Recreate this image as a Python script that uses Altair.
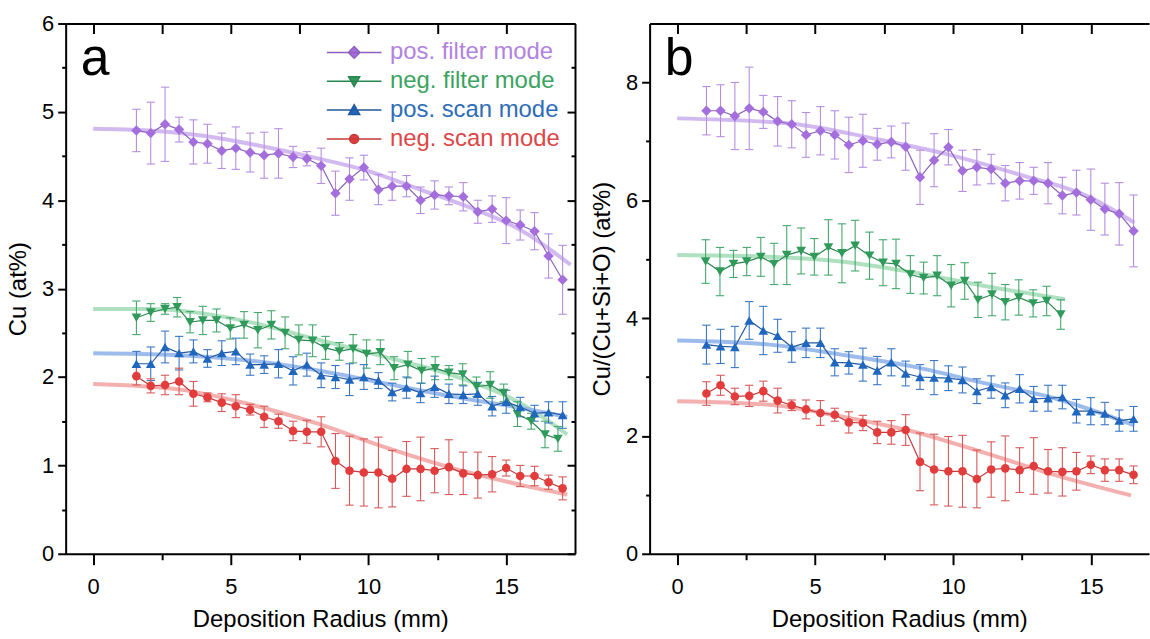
import altair as alt
import pandas as pd

FONT = "Liberation Sans, Arial, Helvetica, sans-serif"

SERIES = ["pos. filter mode", "neg. filter mode", "pos. scan mode", "neg. scan mode"]
MARKER = ["#a46fdc", "#2f9b5b", "#1f66bf", "#e23c3c"]
LINE = ["#8c62bd", "#2a8550", "#22589e", "#c23a3a"]
ERR = ["#b48fe0", "#45a86e", "#3b78c4", "#d65a5a"]
FIT = ["#cdb2f0", "#a6ddb8", "#92b5ea", "#f3a6a6"]
TEXT = ["#b283de", "#3ba35f", "#2f6cb8", "#dc4747"]
SHAPES = ["diamond", "triangle-down", "triangle-up", "circle"]
SIZES = [110, 95, 95, 75]
LEG_PATHS = [
    "M-3.05,0H3.05M0,-0.65L0.65,0L0,0.65L-0.65,0Z",
    "M-3.05,0H3.05M-0.62,-0.5H0.62L0,0.6Z",
    "M-3.05,0H3.05M-0.62,0.5H0.62L0,-0.6Z",
    "M-3.05,0H3.05M0.5,0A0.5,0.5 0 1,1 -0.5,0A0.5,0.5 0 1,1 0.5,0Z",
]

# ---------------- panel a : Cu (at%) ----------------
a_x31 = [1.57, 2.09, 2.61, 3.12, 3.64, 4.15, 4.67, 5.18, 5.70, 6.21, 6.73, 7.26, 7.76, 8.28,
         8.80, 9.31, 9.83, 10.36, 10.86, 11.38, 11.89, 12.40, 12.92, 13.44, 13.97, 14.49,
         15.00, 15.51, 16.03, 16.54, 17.05]
a_x_negf = [1.57, 2.09, 2.61, 3.05, 3.52, 3.98, 4.48, 4.98, 5.48, 5.98, 6.47, 6.97, 7.47, 7.97,
            8.44, 8.94, 9.44, 9.93, 10.43, 10.93, 11.43, 11.93, 12.42, 12.92, 13.42, 13.92,
            14.42, 14.91, 15.41, 15.91, 16.41, 16.88]

a_posf_y = [4.79, 4.76, 4.86, 4.80, 4.66, 4.64, 4.56, 4.59, 4.54, 4.51, 4.53, 4.49, 4.47, 4.39,
            4.08, 4.24, 4.37, 4.12, 4.16, 4.16, 4.00, 4.06, 4.05, 4.04, 3.87, 3.90, 3.77, 3.72,
            3.65, 3.37, 3.10]
a_posf_e = [0.24, 0.35, 0.42, 0.14, 0.25, 0.22, 0.20, 0.24, 0.22, 0.26, 0.28, 0.12, 0.08, 0.20,
            0.25, 0.24, 0.14, 0.17, 0.16, 0.12, 0.15, 0.16, 0.10, 0.16, 0.13, 0.15, 0.26, 0.17,
            0.21, 0.25, 0.39]
a_negf_y = [2.67, 2.73, 2.77, 2.79, 2.62, 2.64, 2.64, 2.55, 2.59, 2.53, 2.59, 2.50, 2.42, 2.41,
            2.33, 2.29, 2.32, 2.26, 2.28, 2.10, 2.14, 2.07, 2.10, 2.05, 2.03, 1.89, 1.91, 1.82,
            1.58, 1.50, 1.35, 1.30]
a_negf_e = [0.19, 0.10, 0.06, 0.11, 0.12, 0.16, 0.13, 0.12, 0.15, 0.20, 0.16, 0.18, 0.17, 0.18,
            0.13, 0.10, 0.16, 0.16, 0.14, 0.13, 0.15, 0.14, 0.13, 0.08, 0.12, 0.11, 0.15, 0.10,
            0.14, 0.09, 0.15, 0.14]
a_poss_y = [2.15, 2.15, 2.34, 2.27, 2.29, 2.21, 2.27, 2.29, 2.14, 2.14, 2.15, 2.07, 2.14, 2.02,
            2.00, 1.97, 2.00, 1.96, 1.83, 1.88, 1.82, 1.89, 1.81, 1.80, 1.81, 1.67, 1.72, 1.66,
            1.59, 1.60, 1.57]
a_poss_e = [0.14, 0.19, 0.18, 0.19, 0.13, 0.10, 0.14, 0.15, 0.12, 0.10, 0.16, 0.16, 0.13, 0.14,
            0.13, 0.18, 0.14, 0.09, 0.10, 0.12, 0.11, 0.12, 0.11, 0.10, 0.13, 0.11, 0.13, 0.11,
            0.09, 0.12, 0.15]
a_negs_y = [2.01, 1.90, 1.91, 1.95, 1.81, 1.77, 1.71, 1.67, 1.63, 1.55, 1.50, 1.39, 1.38, 1.38,
            1.05, 0.94, 0.92, 0.92, 0.85, 0.96, 0.96, 0.94, 0.98, 0.91, 0.89, 0.90, 0.97, 0.88,
            0.88, 0.81, 0.74]
a_negs_e = [0.10, 0.08, 0.11, 0.15, 0.14, 0.05, 0.10, 0.13, 0.06, 0.12, 0.08, 0.11, 0.13, 0.17,
            0.31, 0.39, 0.38, 0.40, 0.32, 0.31, 0.36, 0.25, 0.31, 0.24, 0.26, 0.20, 0.09, 0.12,
            0.11, 0.08, 0.13]

a_fit_posf_x = [0, 2, 4, 6, 8.07, 10, 11.8, 13.67, 15.54, 17.34]
a_fit_posf_y = [4.81, 4.79, 4.73, 4.62, 4.48, 4.33, 4.13, 3.92, 3.66, 3.27]
a_fit_negf_x = [0, 2, 3.98, 5.99, 8.07, 10.56, 13.05, 15.54, 17.22]
a_fit_negf_y = [2.77, 2.77, 2.72, 2.60, 2.43, 2.23, 2.02, 1.70, 1.35]
a_fit_poss_x = [0, 3, 5.58, 8.07, 10.56, 13.05, 15.54, 17.22]
a_fit_poss_y = [2.27, 2.25, 2.19, 2.08, 1.93, 1.78, 1.65, 1.55]
a_fit_negs_x = [0, 3.09, 5.58, 8.07, 10.56, 13.05, 15.54, 17.22]
a_fit_negs_y = [1.92, 1.86, 1.70, 1.48, 1.21, 0.97, 0.78, 0.67]

# ---------------- panel b : Cu/(Cu+Si+O) (at%) ----------------
b_x31 = [1.06, 1.57, 2.09, 2.61, 3.12, 3.64, 4.15, 4.67, 5.19, 5.71, 6.22, 6.73, 7.25, 7.76,
         8.28, 8.80, 9.31, 9.83, 10.34, 10.86, 11.38, 11.89, 12.41, 12.92, 13.44, 13.96,
         14.47, 14.99, 15.50, 16.02, 16.54]
b_x_negf = [1.03, 1.55, 2.04, 2.52, 3.03, 3.51, 3.97, 4.49, 4.97, 5.48, 5.97, 6.45, 6.97, 7.46,
            7.93, 8.45, 8.93, 9.42, 9.93, 10.42, 10.90, 11.41, 11.89, 12.38, 12.90, 13.39, 13.90]

b_posf_y = [7.52, 7.52, 7.43, 7.56, 7.50, 7.34, 7.29, 7.11, 7.18, 7.11, 6.94, 7.01, 6.95, 6.99,
            6.91, 6.39, 6.68, 6.90, 6.50, 6.56, 6.53, 6.29, 6.33, 6.33, 6.29, 6.08, 6.13, 6.01,
            5.85, 5.77, 5.48]
b_posf_e = [0.41, 0.44, 0.57, 0.70, 0.28, 0.42, 0.40, 0.38, 0.41, 0.41, 0.47, 0.45, 0.27, 0.27,
            0.40, 0.46, 0.45, 0.30, 0.35, 0.30, 0.25, 0.30, 0.31, 0.23, 0.35, 0.31, 0.38, 0.52,
            0.44, 0.53, 0.61]
b_negf_y = [4.96, 4.79, 4.92, 4.96, 5.04, 4.92, 5.07, 5.14, 5.04, 5.20, 5.10, 5.23, 5.06, 4.94,
            4.92, 4.74, 4.68, 4.72, 4.55, 4.63, 4.31, 4.40, 4.27, 4.35, 4.25, 4.29, 4.06]
b_negf_e = [0.37, 0.41, 0.23, 0.24, 0.33, 0.35, 0.50, 0.39, 0.31, 0.47, 0.50, 0.43, 0.40, 0.39,
            0.42, 0.32, 0.27, 0.34, 0.36, 0.31, 0.30, 0.36, 0.30, 0.30, 0.23, 0.25, 0.25]
b_poss_y = [3.55, 3.52, 3.51, 3.96, 3.79, 3.70, 3.51, 3.58, 3.58, 3.25, 3.24, 3.21, 3.11, 3.25,
            3.06, 3.00, 2.99, 2.98, 2.95, 2.76, 2.83, 2.69, 2.80, 2.63, 2.64, 2.66, 2.42, 2.42,
            2.38, 2.26, 2.29]
b_poss_e = [0.33, 0.29, 0.35, 0.32, 0.41, 0.28, 0.26, 0.25, 0.25, 0.23, 0.19, 0.28, 0.24, 0.23,
            0.21, 0.21, 0.29, 0.21, 0.22, 0.21, 0.19, 0.21, 0.24, 0.21, 0.22, 0.20, 0.20, 0.23,
            0.19, 0.18, 0.21]
b_negs_y = [2.72, 2.86, 2.67, 2.68, 2.76, 2.60, 2.52, 2.45, 2.39, 2.36, 2.23, 2.22, 2.06, 2.06,
            2.10, 1.56, 1.43, 1.40, 1.40, 1.27, 1.43, 1.45, 1.42, 1.49, 1.40, 1.39, 1.40, 1.51,
            1.42, 1.42, 1.34]
b_negs_e = [0.20, 0.17, 0.14, 0.18, 0.17, 0.21, 0.09, 0.16, 0.21, 0.11, 0.18, 0.13, 0.19, 0.20,
            0.26, 0.49, 0.60, 0.59, 0.61, 0.49, 0.47, 0.55, 0.38, 0.48, 0.37, 0.41, 0.32, 0.15,
            0.19, 0.19, 0.15]

b_fit_posf_x = [0, 4.13, 7.22, 9.80, 12.38, 14.96, 16.57]
b_fit_posf_y = [7.39, 7.30, 7.04, 6.78, 6.44, 6.05, 5.62]
b_fit_negf_x = [0, 3.35, 5.93, 8.51, 11.09, 14.06]
b_fit_negf_y = [5.07, 5.04, 4.96, 4.78, 4.55, 4.32]
b_fit_poss_x = [0, 3.35, 5.93, 8.51, 11.09, 13.67, 16.57]
b_fit_poss_y = [3.62, 3.55, 3.38, 3.18, 2.90, 2.64, 2.18]
b_fit_negs_x = [0, 3.35, 5.93, 8.51, 11.09, 13.67, 16.45]
b_fit_negs_y = [2.59, 2.53, 2.33, 2.08, 1.72, 1.34, 0.99]

# ---------------- tables ----------------
pts_src = [
    ("a", SERIES[0], a_x31, a_posf_y, a_posf_e),
    ("a", SERIES[1], a_x_negf, a_negf_y, a_negf_e),
    ("a", SERIES[2], a_x31, a_poss_y, a_poss_e),
    ("a", SERIES[3], a_x31, a_negs_y, a_negs_e),
    ("b", SERIES[0], b_x31, b_posf_y, b_posf_e),
    ("b", SERIES[1], b_x_negf, b_negf_y, b_negf_e),
    ("b", SERIES[2], b_x31, b_poss_y, b_poss_e),
    ("b", SERIES[3], b_x31, b_negs_y, b_negs_e),
]
rows = []
for p, s, xs, ys, es in pts_src:
    for xv, yv, ev in zip(xs, ys, es):
        rows.append({"panel": p, "series": s, "x": xv, "y": yv,
                     "lo": round(yv - ev, 3), "hi": round(yv + ev, 3)})
df_pts = pd.DataFrame(rows)

fit_src = [
    ("a", SERIES[0], a_fit_posf_x, a_fit_posf_y), ("a", SERIES[1], a_fit_negf_x, a_fit_negf_y),
    ("a", SERIES[2], a_fit_poss_x, a_fit_poss_y), ("a", SERIES[3], a_fit_negs_x, a_fit_negs_y),
    ("b", SERIES[0], b_fit_posf_x, b_fit_posf_y), ("b", SERIES[1], b_fit_negf_x, b_fit_negf_y),
    ("b", SERIES[2], b_fit_poss_x, b_fit_poss_y), ("b", SERIES[3], b_fit_negs_x, b_fit_negs_y),
]
frows = []
for p, s, xs, ys in fit_src:
    for xv, yv in zip(xs, ys):
        frows.append({"panel": p, "series": s, "x": xv, "y": yv})
df_fit = pd.DataFrame(frows)

df_leg = pd.DataFrame({"series": SERIES, "x": [-50] * 4, "y": [0] * 4})

COMMON = dict(grid=False, domainColor="black", tickColor="black", labelColor="black",
              titleColor="black", labelFont=FONT, titleFont=FONT, titleFontWeight="normal")

label_expr = " : ".join(
    [f"datum.label == '{s}' ? '{c}'" for s, c in zip(SERIES[:-1], TEXT[:-1])] + [f"'{TEXT[-1]}'"]
)


def make_panel(p, xdom, ydom, ymaj, ymin, W, H, ytitle, right_frame, letter, lpos, legend):
    xsc = alt.Scale(domain=xdom, nice=False, zero=False)
    ysc = alt.Scale(domain=ydom, nice=False, zero=False)
    pts = df_pts[df_pts.panel == p]
    fit = df_fit[df_fit.panel == p]
    layers = []

    def xaxis_layer(axis):
        return alt.Chart(fit).mark_point(opacity=0).encode(
            x=alt.X("x:Q", scale=xsc, axis=axis), y=alt.Y("y:Q", scale=ysc, axis=None))

    def yaxis_layer(axis):
        return alt.Chart(fit).mark_point(opacity=0).encode(
            x=alt.X("x:Q", scale=xsc, axis=None), y=alt.Y("y:Q", scale=ysc, axis=axis))

    top_vals = [v for v in [0, 2.5, 5, 7.5, 10, 12.5, 15] if xdom[0] < v < xdom[1]]
    layers.append(xaxis_layer(alt.Axis(orient="bottom", values=[0, 5, 10, 15], format="d",
                                       labelFontSize=22, titleFontSize=24, tickSize=11,
                                       tickWidth=2, domainWidth=2, labelPadding=12,
                                       titlePadding=10, title="Deposition Radius (mm)",
                                       labelFlush=False, **COMMON)))
    layers.append(xaxis_layer(alt.Axis(orient="bottom", values=[2.5, 7.5, 12.5], labels=False,
                                       domain=False, tickSize=6, tickWidth=2, title=None,
                                       **COMMON)))
    layers.append(xaxis_layer(alt.Axis(orient="bottom", offset=-H, values=top_vals,
                                       labels=False, domainWidth=2, tickSize=10, tickWidth=2,
                                       title=None, **COMMON)))
    layers.append(yaxis_layer(alt.Axis(orient="left", values=ymaj, format="d",
                                       labelFontSize=22, titleFontSize=24, tickSize=8,
                                       tickWidth=2, domainWidth=2, labelPadding=4,
                                       titlePadding=11, title=ytitle, labelFlush=False,
                                       **COMMON)))
    layers.append(yaxis_layer(alt.Axis(orient="left", values=ymin, labels=False, domain=False,
                                       tickSize=4, tickWidth=2, title=None, **COMMON)))
    if right_frame:
        layers.append(yaxis_layer(alt.Axis(orient="left", offset=-W, values=ymaj, labels=False,
                                           domainWidth=2, tickSize=8, tickWidth=2, title=None,
                                           **COMMON)))
        layers.append(yaxis_layer(alt.Axis(orient="left", offset=-W, values=ymin, labels=False,
                                           domain=False, tickSize=4, tickWidth=2, title=None,
                                           **COMMON)))

    X = alt.X("x:Q", scale=xsc, axis=None)
    Y = alt.Y("y:Q", scale=ysc, axis=None)

    for i, s in enumerate(SERIES):
        f = alt.datum.series == s
        layers.append(alt.Chart(fit).transform_filter(f).mark_line(
            color=FIT[i], strokeWidth=4, opacity=0.9, interpolate="monotone").encode(x=X, y=Y))
    for i, s in enumerate(SERIES):
        f = alt.datum.series == s
        layers.append(alt.Chart(pts).transform_filter(f).mark_rule(
            color=ERR[i], strokeWidth=1.1).encode(
            x=X, y=alt.Y("lo:Q", scale=ysc, axis=None), y2="hi:Q"))
        layers.append(alt.Chart(pts).transform_filter(f).transform_fold(
            ["lo", "hi"], as_=["end", "v"]).mark_point(
            shape="M-1,0H1", size=70, color=ERR[i], strokeWidth=1.1, opacity=1).encode(
            x=X, y=alt.Y("v:Q", scale=ysc, axis=None)))
    for i, s in enumerate(SERIES):
        f = alt.datum.series == s
        layers.append(alt.Chart(pts).transform_filter(f).mark_line(
            color=LINE[i], strokeWidth=1.2).encode(x=X, y=Y))
        layers.append(alt.Chart(pts).transform_filter(f).mark_point(
            shape=SHAPES[i], size=SIZES[i], filled=True, color=MARKER[i], opacity=1).encode(
            x=X, y=Y))

    lt = pd.DataFrame({"x": [lpos[0]], "y": [lpos[1]], "t": [letter]})
    layers.append(alt.Chart(lt).mark_text(fontSize=52, font=FONT, align="left",
                                          baseline="alphabetic", color="black").encode(
        x=X, y=Y, text="t:N"))

    if legend:
        lg = dict(orient="none", legendX=278, legendY=17, title=None, symbolSize=324,
                  symbolStrokeWidth=1.5, symbolOpacity=1, labelFontSize=24, labelFont=FONT,
                  labelColor={"expr": label_expr}, labelOffset=24, rowPadding=5, padding=0,
                  labelLimit=400)
        layers.append(alt.Chart(df_leg).mark_point(filled=True, clip=True, size=50).encode(
            x=X, y=Y,
            shape=alt.Shape("series:N", scale=alt.Scale(domain=SERIES, range=LEG_PATHS),
                            sort=SERIES, legend=alt.Legend(**lg)),
            fill=alt.Fill("series:N", scale=alt.Scale(domain=SERIES, range=MARKER),
                          sort=SERIES, legend=alt.Legend(**lg)),
            stroke=alt.Stroke("series:N", scale=alt.Scale(domain=SERIES, range=LINE),
                              sort=SERIES, legend=alt.Legend(**lg)),
        ))

    return alt.layer(*layers).resolve_axis(x="independent", y="independent").properties(
        width=W, height=H)


panel_a = make_panel("a", [-1, 17.5], [0, 6], [0, 1, 2, 3, 4, 5, 6],
                     [0.5, 1.5, 2.5, 3.5, 4.5, 5.5], 512, 533, "Cu (at%)", True,
                     "a", (-0.45, 5.42), True)
panel_b = make_panel("b", [-1, 17.1], [0, 9], [0, 2, 4, 6, 8], [1, 3, 5, 7], 502, 533,
                     "Cu/(Cu+Si+O) (at%)", False, "b", (-0.45, 8.12), False)

chart = alt.hconcat(panel_a, panel_b, spacing=10).properties(
    padding={"left": 6, "top": 10, "right": 0, "bottom": 0}, background="white"
).configure_view(stroke="transparent")

chart.save("out.html", embed_options={"renderer": "svg", "actions": False})
